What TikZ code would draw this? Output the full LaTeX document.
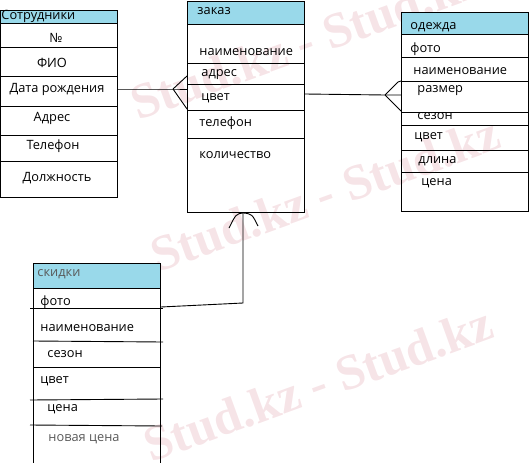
\documentclass[tikz,border=0pt]{standalone}
\usepackage{fontspec}
\setmainfont{Open Sans}
\newfontfamily\wmfont{Liberation Serif}
\definecolor{hdrblue}{RGB}{153,217,234}
\definecolor{wmpink}{RGB}{246,228,231}
\begin{document}
\begin{tikzpicture}[x=1pt,y=-1pt,line width=0.9pt,
  entity/.style={draw, inner sep=0pt, anchor=north west},
  hdr/.style={fill=hdrblue, draw, inner sep=0pt, anchor=north west},
  lbl/.style={font=\fontsize{12.8}{14}\selectfont, inner sep=0pt, anchor=west},
  clbl/.style={font=\fontsize{12.8}{14}\selectfont, inner sep=0pt},
  graylbl/.style={lbl, text=black!65},
  link/.style={line width=0.9pt},
  wm/.style={font=\wmfont\bfseries\fontsize{50}{50}\selectfont, text=wmpink, rotate=20, inner sep=0pt}]
\useasboundingbox (0,0) rectangle (530,463);
% watermark
\node[wm] (wm1) at (305,42) {Stud.kz - Stud.kz};
\node[wm] (wm2) at (325,194) {Stud.kz - Stud.kz};
\node[wm] (wm3) at (318,384) {Stud.kz - Stud.kz};

% ---- Сотрудники
\node[hdr, minimum width=117pt, minimum height=13pt] (sh) at (0,10) {};
\node[entity, minimum width=117pt, minimum height=187pt] (s) at (0,10) {};
\foreach \y in {47,76,106,135,161} \draw (0,\y) -- (117,\y);
\node[lbl] (s0) at (1,16) {Сотрудники};
\node[clbl] (s1) at (56,38) {№};
\node[clbl] (s2) at (52,63) {ФИО};
\node[clbl] (s3) at (57,89) {Дата рождения};
\node[clbl] (s4) at (52,118) {Адрес};
\node[clbl] (s5) at (53,146) {Телефон};
\node[clbl] (s6) at (57,178) {Должность};

% ---- заказ
\node[hdr, minimum width=117pt, minimum height=23pt] (zh) at (187,1) {};
\node[entity, minimum width=117pt, minimum height=211pt] (z) at (187,1) {};
\foreach \y in {63,84,110,138} \draw (187,\y) -- (304,\y);
\node[lbl] (z0) at (197,11) {заказ};
\node[lbl] (z1) at (199,52) {наименование};
\node[lbl] (z2) at (201,75) {адрес};
\node[lbl] (z3) at (201,98) {цвет};
\node[lbl] (z4) at (199,123) {телефон};
\node[lbl] (z5) at (199,155) {количество};

% ---- одежда
\node[hdr, minimum width=127pt, minimum height=22pt] (oh) at (401,12) {};
\node[entity, minimum width=127pt, minimum height=199pt] (o) at (401,12) {};
\foreach \y in {57,81,112,125,150,172} \draw (401,\y) -- (528,\y);
\node[lbl] (o0) at (410,27) {одежда};
\node[lbl] (o1) at (410,49) {фото};
\node[lbl] (o2) at (413,71) {наименование};
\node[lbl] (o3) at (417,91) {размер};
\node[lbl] (o4) at (417,116) {сезон};
\node[lbl] (o5) at (414,137) {цвет};
\node[lbl] (o6) at (418,161) {длина};
\node[lbl] (o7) at (421,183) {цена};

% ---- скидки
\node[hdr, minimum width=127pt, minimum height=25pt] (kh) at (33,263) {};
\node[entity, minimum width=127pt, minimum height=212pt] (k) at (33,263) {};
\draw (30,308) -- (163,308);
\draw (33,341) -- (163,342);
\draw (33,367) -- (160,367);
\draw (30,400) -- (163,399);
\draw (30,425) -- (162,426);
\node[graylbl] (k0) at (37,274) {скидки};
\node[lbl] (k1) at (40,302) {фото};
\node[lbl] (k2) at (40,328) {наименование};
\node[lbl] (k3) at (47,354) {сезон};
\node[lbl] (k4) at (40,381) {цвет};
\node[lbl] (k5) at (47,409) {цена};
\node[graylbl] (k6) at (48,439) {новая цена};

% ---- connectors
% Сотрудники -- заказ
\coordinate (f1) at (173,89);
\draw[link] (s.east |- f1) -- (f1) -- (z.west |- f1);
\draw[link] (f1) -- (z.west |- 0,76);
\draw[link] (f1) -- (z.west |- 0,109);
% заказ -- одежда
\coordinate (f2) at (385,95);
\draw[link] (z.east |- 0,94) -- (f2) -- (o.west |- f2);
\draw[link] (f2) -- (398,82) -- (o.west |- 0,81);
\draw[link] (f2) -- (o.west |- 0,111);
% скидки -- заказ
\coordinate (f3) at (z.south -| 243,0);
\coordinate (c3) at (243,303);
\draw[link] (k.east |- 0,307) -- (c3) -- (f3);
\draw[link] (f3) .. controls (236,214) .. (229,228);
\draw[link] (f3) .. controls (252,214) .. (258,226);
\end{tikzpicture}
\end{document}
